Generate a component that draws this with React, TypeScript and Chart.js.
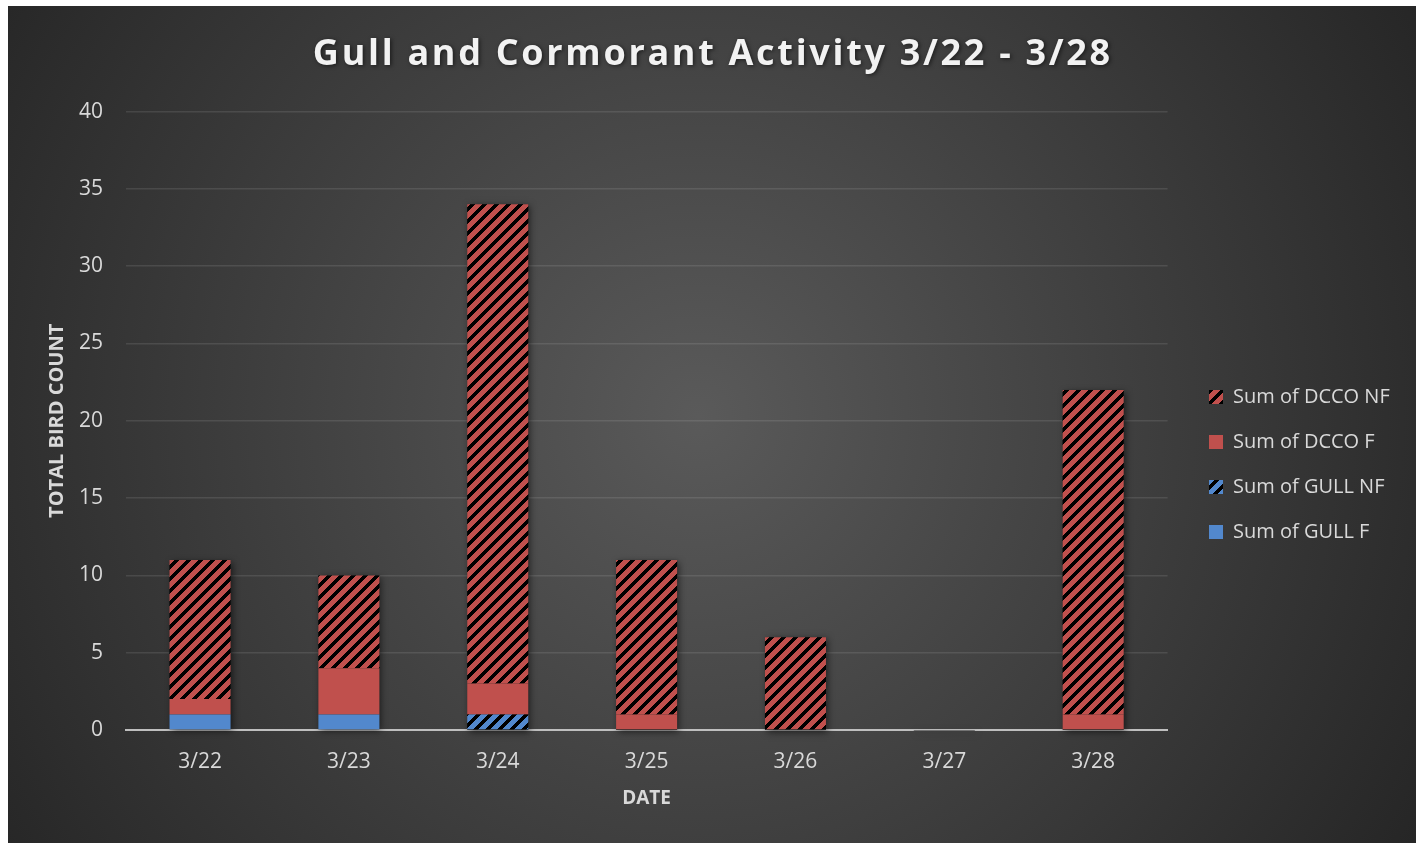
import React, { useEffect, useRef } from 'react';
import Chart from 'chart.js/auto';

// ---- data ----
const categories = ['3/22', '3/23', '3/24', '3/25', '3/26', '3/27', '3/28'];
const gullF = [1, 1, 0, 0, 0, 0, 0];
const gullNF = [0, 0, 1, 0, 0, 0, 0];
const dccoF = [1, 3, 2, 1, 0, 0, 1];
const dccoNF = [9, 6, 31, 10, 6, 0, 21];
const seriesLabels = ['Sum of GULL F', 'Sum of GULL NF', 'Sum of DCCO F', 'Sum of DCCO NF'];
const yMin = 0;
const yMax = 40;
const yStep = 5;
const titleText = 'Gull and Cormorant Activity 3/22 - 3/28';
const xTitle = 'DATE';
const yTitle = 'TOTAL BIRD COUNT';

// ---- style ----
const W = 1408;
const H = 837;
const FONT = '"Open Sans", "DejaVu Sans", sans-serif';
const RED = '#c0504d';
const BLUE = '#5288cd';
const TEXT = '#d9d9d9';

function hexRgb(h: string) {
  const n = parseInt(h.slice(1), 16);
  return [(n >> 16) & 255, (n >> 8) & 255, n & 255];
}

function makeStripe(ctx: CanvasRenderingContext2D, color: string) {
  const S = 12;
  const c = document.createElement('canvas');
  c.width = S;
  c.height = S;
  const g = c.getContext('2d')!;
  const img = g.createImageData(S, S);
  const [r, gg, b] = hexRgb(color);
  for (let y = 0; y < S; y++) {
    for (let x = 0; x < S; x++) {
      const i = (y * S + x) * 4;
      const black = (x + y) % S < 5;
      img.data[i] = black ? 0 : r;
      img.data[i + 1] = black ? 0 : gg;
      img.data[i + 2] = black ? 0 : b;
      img.data[i + 3] = 255;
    }
  }
  g.putImageData(img, 0, 0);
  return ctx.createPattern(c, 'repeat') as CanvasPattern;
}

export default function App() {
  const ref = useRef<HTMLCanvasElement | null>(null);

  useEffect(() => {
    const canvas = ref.current!;
    const ctx = canvas.getContext('2d')!;
    document.body.style.overflow = 'hidden';

    // measure text for layout
    ctx.save();
    ctx.font = `20px ${FONT}`;
    const legendTextW = Math.max(...seriesLabels.map((s) => ctx.measureText(s).width));
    ctx.font = `bold 36px ${FONT}`;
    const titleW = ctx.measureText(titleText).width;
    ctx.restore();
    const letterSpacing = Math.max(0, (800 - titleW) / titleText.length);
    const legendPad = 25;
    const legendW = legendPad + 14 + 10 + legendTextW + 10;
    const padRight = Math.max(0, W - 1176 - legendW);

    const redStripe = makeStripe(ctx, RED);
    const blueStripe = makeStripe(ctx, BLUE);

    const bgPlugin = {
      id: 'bg',
      beforeDraw(chart: any) {
        const c = chart.ctx;
        c.save();
        const g = c.createRadialGradient(690, 410, 0, 690, 410, 880);
        g.addColorStop(0, '#5a5a5a');
        g.addColorStop(1, '#232323');
        c.fillStyle = g;
        c.fillRect(0, 0, W, H);
        c.restore();
      },
    };

    const shadowPlugin = {
      id: 'barShadow',
      beforeDatasetsDraw(chart: any) {
        const c = chart.ctx;
        const metas = chart.data.datasets.map((_: any, i: number) => chart.getDatasetMeta(i));
        c.save();
        c.shadowColor = 'rgba(0,0,0,0.6)';
        c.shadowBlur = 7;
        c.shadowOffsetX = 2;
        c.shadowOffsetY = 2;
        c.fillStyle = '#2a2a2a';
        categories.forEach((_, i) => {
          let top = Infinity;
          let base = -Infinity;
          let x = 0;
          let w = 0;
          metas.forEach((m: any) => {
            const p = m.data[i].getProps(['x', 'y', 'base', 'width'], true);
            top = Math.min(top, p.y, p.base);
            base = Math.max(base, p.base, p.y);
            x = p.x;
            w = p.width;
          });
          c.fillRect(x - w / 2, top, w, Math.max(base - top, 0.5));
        });
        c.restore();
      },
    };

    const titlePlugin = {
      id: 'titleStyle',
      afterInit(chart: any) {
        const tb = chart.titleBlock;
        if (!tb || tb.__patched) return;
        tb.__patched = true;
        const orig = tb.draw.bind(tb);
        tb.draw = (...args: any[]) => {
          const c = chart.ctx;
          c.save();
          (c as any).letterSpacing = `${letterSpacing}px`;
          c.translate(9, 0);
          c.shadowColor = 'rgba(0,0,0,0.55)';
          c.shadowBlur = 4;
          c.shadowOffsetX = 1.5;
          c.shadowOffsetY = 1.5;
          orig(...args);
          c.restore();
        };
      },
    };

    const chart = new Chart(ctx, {
      type: 'bar',
      data: {
        labels: categories,
        datasets: [
          { label: seriesLabels[0], data: gullF, backgroundColor: BLUE },
          { label: seriesLabels[1], data: gullNF, backgroundColor: blueStripe },
          { label: seriesLabels[2], data: dccoF, backgroundColor: RED },
          { label: seriesLabels[3], data: dccoNF, backgroundColor: redStripe },
        ].map((d) => ({ ...d, borderWidth: 0, barPercentage: 0.41, categoryPercentage: 1 })),
      },
      options: {
        responsive: false,
        animation: false,
        layout: { padding: { left: 0, top: 0, right: padRight, bottom: 27 } },
        plugins: {
          title: {
            display: true,
            text: titleText,
            color: '#f2f2f2',
            font: { family: FONT, size: 36, weight: 'bold', lineHeight: 1.2 },
            padding: { top: 27, bottom: 35.4 },
          },
          legend: {
            position: 'right',
            reverse: true,
            title: {
              display: true,
              text: ' ',
              font: { family: FONT, size: 20, lineHeight: 1.2 },
              padding: { top: 83, bottom: 0 },
            },
            labels: {
              color: TEXT,
              font: { family: FONT, size: 20 },
              boxWidth: 14,
              boxHeight: 14,
              padding: legendPad,
            },
          },
          tooltip: { enabled: false },
        },
        scales: {
          x: {
            stacked: true,
            grid: { display: false },
            border: { display: true, color: '#bfbfbf', width: 2 },
            ticks: { color: TEXT, font: { family: FONT, size: 21 }, padding: 11.4 },
            title: {
              display: true,
              text: xTitle,
              color: TEXT,
              font: { family: FONT, size: 19, weight: 'bold' },
              padding: { top: 0, bottom: 6 },
            },
            afterFit(s: any) {
              s.height = 86;
            },
          },
          y: {
            stacked: true,
            min: yMin,
            max: yMax,
            ticks: { stepSize: yStep, color: TEXT, font: { family: FONT, size: 21 }, padding: 22.6 },
            grid: { color: 'rgba(255,255,255,0.1)', lineWidth: 1.5, drawTicks: false },
            border: { display: false },
            title: {
              display: true,
              text: yTitle,
              color: TEXT,
              font: { family: FONT, size: 20, weight: 'bold' },
              padding: { top: 37, bottom: 0 },
            },
            afterFit(s: any) {
              s.width = 117.6;
            },
          },
          yR: {
            type: 'linear',
            axis: 'y',
            position: 'right',
            display: true,
            grid: { display: false },
            ticks: { display: false },
            border: { display: false },
            afterFit(s: any) {
              s.width = 16.4;
            },
          },
        },
      } as any,
      plugins: [bgPlugin, shadowPlugin, titlePlugin],
    });

    return () => chart.destroy();
  }, []);

  return (
    <div style={{ position: 'absolute', left: 8, top: 6, width: W, height: H }}>
      <canvas ref={ref} width={W} height={H} style={{ display: 'block', width: W, height: H }} />
    </div>
  );
}
